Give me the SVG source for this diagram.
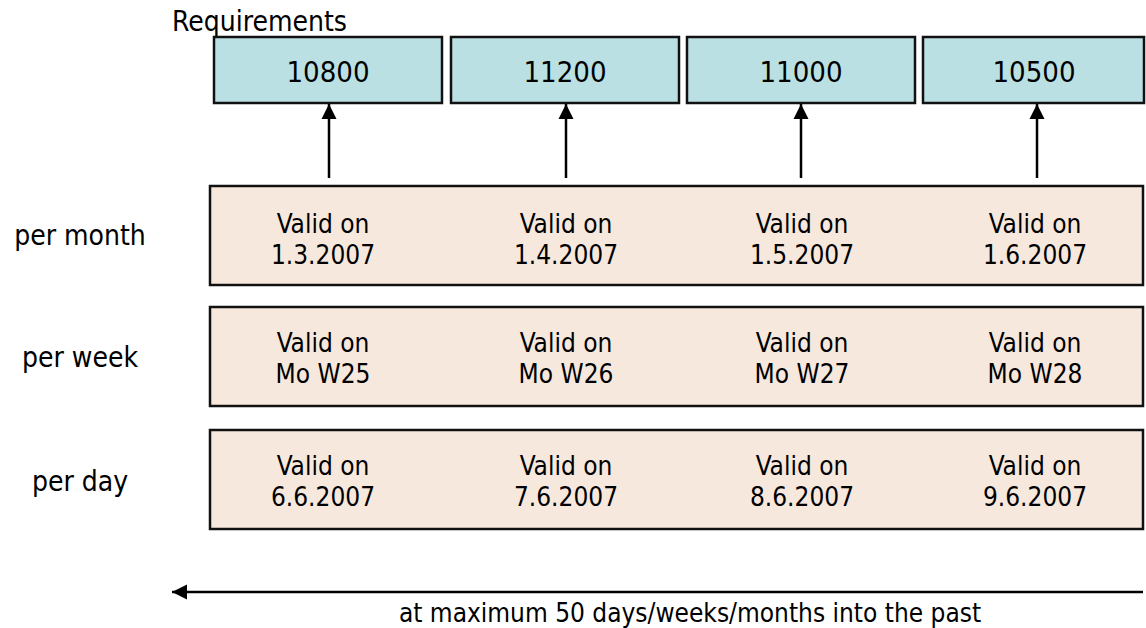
<svg xmlns="http://www.w3.org/2000/svg" width="1146" height="628" viewBox="0 0 1146 628">
  <style>
    text { font-family: "DejaVu Sans Condensed", "DejaVu Sans", sans-serif; fill: #000; }
    .req { fill: #bbe0e3; stroke: #111; stroke-width: 2.5; }
    .row { fill: #f7e8de; stroke: #111; stroke-width: 2.5; }
    .num { font-size: 29px; text-anchor: middle; }
    .cell { font-size: 26px; text-anchor: middle; }
    .lbl { font-size: 28px; text-anchor: middle; }
    .note { font-size: 26px; text-anchor: middle; }
    .title { font-size: 28px; }
    .conn { stroke: #000; stroke-width: 2.5; fill: none; }
  </style>
  <defs>
    <marker id="arrow" markerUnits="userSpaceOnUse" markerWidth="16" markerHeight="16" viewBox="0 0 16 16" refX="15" refY="8" orient="auto">
      <path d="M0,0.5 L15,8 L0,15.5 Z" fill="#000"/>
    </marker>
  </defs>

  <text class="title" x="172" y="31">Requirements</text>

  <!-- requirement values -->
  <g id="req1"><rect class="req" x="214" y="37" width="228" height="66"/><text class="num" x="328" y="82">10800</text></g>
  <g id="req2"><rect class="req" x="451" y="37" width="228" height="66"/><text class="num" x="565" y="82">11200</text></g>
  <g id="req3"><rect class="req" x="687" y="37" width="228" height="66"/><text class="num" x="801" y="82">11000</text></g>
  <g id="req4"><rect class="req" x="923" y="37" width="221" height="66"/><text class="num" x="1034" y="82">10500</text></g>

  <!-- row labels -->
  <text class="lbl" x="80" y="245">per month</text>
  <text class="lbl" x="80" y="367">per week</text>
  <text class="lbl" x="80" y="491">per day</text>

  <!-- validity rows -->
  <g id="month">
    <rect class="row" x="210" y="186" width="933" height="99"/>
    <text class="cell" x="323" y="233">Valid on</text><text class="cell" x="323" y="264">1.3.2007</text>
    <text class="cell" x="566" y="233">Valid on</text><text class="cell" x="566" y="264">1.4.2007</text>
    <text class="cell" x="802" y="233">Valid on</text><text class="cell" x="802" y="264">1.5.2007</text>
    <text class="cell" x="1035" y="233">Valid on</text><text class="cell" x="1035" y="264">1.6.2007</text>
  </g>
  <g id="week">
    <rect class="row" x="210" y="307" width="933" height="99"/>
    <text class="cell" x="323" y="352">Valid on</text><text class="cell" x="323" y="383">Mo W25</text>
    <text class="cell" x="566" y="352">Valid on</text><text class="cell" x="566" y="383">Mo W26</text>
    <text class="cell" x="802" y="352">Valid on</text><text class="cell" x="802" y="383">Mo W27</text>
    <text class="cell" x="1035" y="352">Valid on</text><text class="cell" x="1035" y="383">Mo W28</text>
  </g>
  <g id="day">
    <rect class="row" x="210" y="430" width="933" height="99"/>
    <text class="cell" x="323" y="475">Valid on</text><text class="cell" x="323" y="506">6.6.2007</text>
    <text class="cell" x="566" y="475">Valid on</text><text class="cell" x="566" y="506">7.6.2007</text>
    <text class="cell" x="802" y="475">Valid on</text><text class="cell" x="802" y="506">8.6.2007</text>
    <text class="cell" x="1035" y="475">Valid on</text><text class="cell" x="1035" y="506">9.6.2007</text>
  </g>

  <!-- connectors -->
  <g id="connectors">
    <line class="conn" x1="329" y1="178" x2="329" y2="104" marker-end="url(#arrow)"/>
    <line class="conn" x1="566" y1="178" x2="566" y2="104" marker-end="url(#arrow)"/>
    <line class="conn" x1="801" y1="178" x2="801" y2="104" marker-end="url(#arrow)"/>
    <line class="conn" x1="1037" y1="178" x2="1037" y2="104" marker-end="url(#arrow)"/>
    <line class="conn" x1="1143" y1="592" x2="172" y2="592" marker-end="url(#arrow)"/>
  </g>

  <text class="note" x="690" y="622">at maximum 50 days/weeks/months into the past</text>
</svg>
